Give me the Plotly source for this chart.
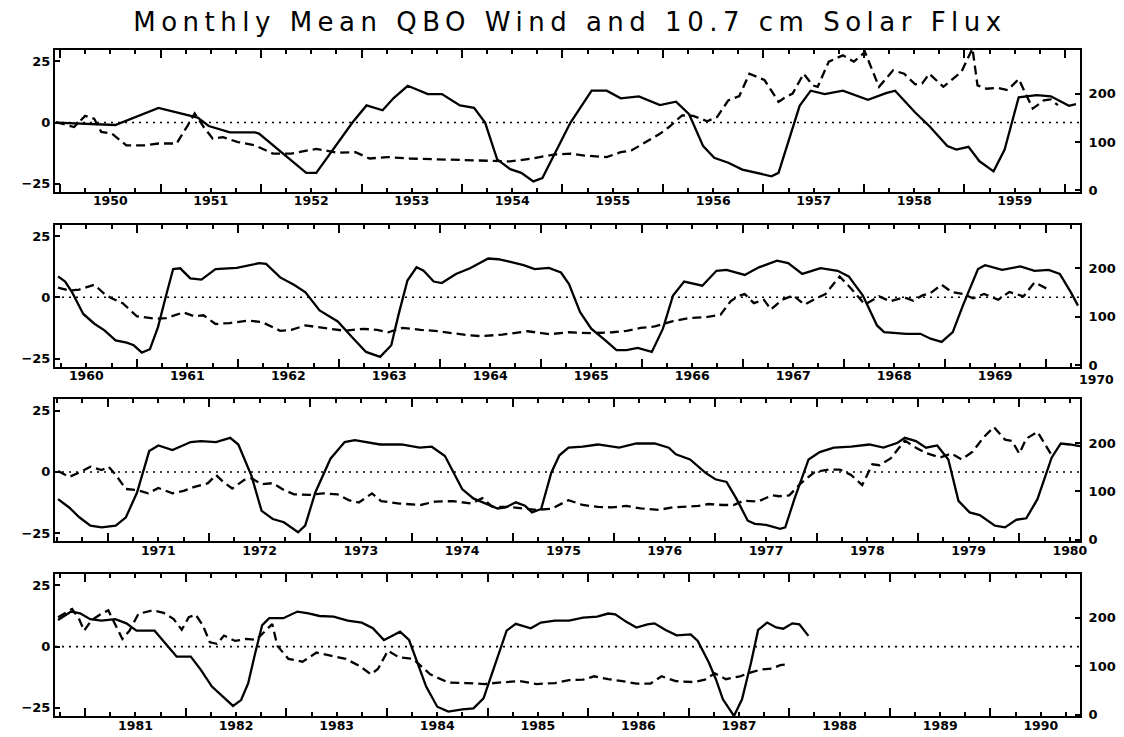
import plotly.graph_objects as go

# ---------------- data (decimal year, QBO wind m/s, 10.7 cm flux) ----------------
qbo_t1 = [1949.96, 1950.3, 1950.55, 1950.98, 1951.27, 1951.37, 1951.48, 1951.69, 1951.94, 1951.98,
          1952.45, 1952.55, 1952.91, 1953.05, 1953.21, 1953.32, 1953.46, 1953.66, 1953.80, 1953.98,
          1954.12, 1954.23, 1954.35, 1954.48, 1954.59, 1954.71, 1954.80, 1954.94, 1955.08, 1955.29,
          1955.44, 1955.58, 1955.76, 1955.97, 1956.13, 1956.26, 1956.40, 1956.51, 1956.65, 1956.79,
          1956.94, 1957.08, 1957.15, 1957.36, 1957.47, 1957.61, 1957.79, 1958.04, 1958.22, 1958.31,
          1958.51, 1958.65, 1958.83, 1958.92, 1959.04, 1959.15, 1959.29, 1959.40, 1959.54, 1959.72,
          1959.86, 1960.04, 1960.11]
qbo_v1 = [0.0, -0.5, -1.0, 6.0, 3.0, 2.0, -1.4, -4.0, -4.0, -4.5,
          -20.5, -20.5, 0.0, 7.0, 5.0, 10.0, 15.0, 11.6, 11.6, 7.0,
          6.0, 0.0, -15.0, -19.0, -20.5, -24.0, -22.6, -11.0, 0.0, 13.0,
          13.0, 9.9, 10.7, 7.1, 8.5, 3.4, -9.6, -14.4, -16.4, -19.2,
          -20.5, -21.9, -20.5, 6.8, 13.0, 11.6, 13.0, 9.3, 12.0, 13.0,
          4.1, -1.4, -9.6, -11.0, -9.9, -15.8, -19.9, -11.0, 10.3, 11.2,
          10.7, 6.8, 7.5]
flux_t1 = [1949.96, 1950.14, 1950.25, 1950.34, 1950.41, 1950.52, 1950.66, 1950.84, 1950.98, 1951.16,
           1951.27, 1951.34, 1951.43, 1951.52, 1951.62, 1951.77, 1951.94, 1952.12, 1952.30, 1952.55,
           1952.76, 1952.94, 1953.08, 1953.26, 1953.48, 1953.76, 1954.05, 1954.27, 1954.48, 1954.70,
           1954.91, 1955.08, 1955.22, 1955.44, 1955.58, 1955.69, 1955.83, 1955.97, 1956.06, 1956.19,
           1956.30, 1956.44, 1956.54, 1956.65, 1956.76, 1956.86, 1957.01, 1957.15, 1957.22, 1957.29,
           1957.40, 1957.49, 1957.54, 1957.65, 1957.79, 1957.90, 1958.01, 1958.15, 1958.29, 1958.40,
           1958.51, 1958.58, 1958.65, 1958.79, 1958.97, 1959.08, 1959.13, 1959.22, 1959.33, 1959.43,
           1959.54, 1959.61, 1959.68, 1959.79, 1959.86, 1959.93]
flux_v1 = [141, 131, 154, 148, 121, 117, 93, 93, 97, 97,
           134, 159, 131, 107, 110, 100, 93, 76, 76, 86,
           78, 79, 66, 69, 66, 64, 62, 60, 60, 66,
           74, 76, 72, 69, 79, 83, 100, 117, 131, 155,
           154, 143, 152, 186, 195, 241, 228, 183, 193, 200,
           241, 217, 214, 266, 279, 266, 286, 214, 248, 241,
           219, 221, 241, 214, 245, 293, 217, 210, 212, 207,
           230, 200, 169, 186, 188, 176]

qbo_t2 = [1960.22, 1960.29, 1960.36, 1960.47, 1960.58, 1960.68, 1960.79, 1960.90, 1960.97, 1961.05,
          1961.13, 1961.21, 1961.29, 1961.36, 1961.43, 1961.53, 1961.64, 1961.78, 1961.99, 1962.21,
          1962.28, 1962.42, 1962.56, 1962.67, 1962.81, 1962.99, 1963.13, 1963.27, 1963.41, 1963.52,
          1963.59, 1963.68, 1963.77, 1963.84, 1963.94, 1964.02, 1964.16, 1964.30, 1964.48, 1964.58,
          1964.69, 1964.83, 1964.94, 1965.08, 1965.20, 1965.28, 1965.39, 1965.50, 1965.64, 1965.75,
          1965.85, 1965.96, 1966.10, 1966.21, 1966.31, 1966.42, 1966.60, 1966.74, 1966.84, 1967.02,
          1967.16, 1967.34, 1967.45, 1967.59, 1967.77, 1967.94, 1968.05, 1968.19, 1968.33, 1968.40,
          1968.62, 1968.76, 1968.86, 1968.97, 1969.08, 1969.18, 1969.33, 1969.40, 1969.57, 1969.75,
          1969.89, 1970.03, 1970.14, 1970.25, 1970.32]
qbo_v2 = [8.5, 6.4, 2.0, -6.8, -10.8, -13.5, -17.6, -18.5, -19.6, -22.6,
          -21.2, -12.2, 0.7, 11.5, 11.8, 7.7, 7.2, 11.5, 12.0, 13.9,
          13.6, 8.1, 5.0, 2.0, -5.4, -9.9, -16.2, -22.3, -24.3, -19.6,
          -7.4, 6.8, 12.2, 10.8, 6.4, 5.8, 9.5, 11.8, 15.8, 15.5,
          14.5, 13.1, 11.5, 12.0, 10.1, 5.4, -6.1, -12.8, -17.6, -21.6,
          -21.6, -20.7, -22.3, -12.8, 0.7, 6.4, 4.7, 10.8, 11.2, 9.1,
          12.2, 14.9, 13.9, 9.5, 11.9, 10.8, 8.5, 0.7, -11.5, -14.2,
          -14.9, -14.9, -16.9, -18.2, -14.2, -3.4, 11.5, 13.1, 11.2, 12.6,
          10.8, 11.2, 9.5, 2.0, -3.4]
flux_t2 = [1960.22, 1960.33, 1960.43, 1960.58, 1960.68, 1960.75, 1960.86, 1961.00, 1961.18, 1961.29,
           1961.46, 1961.57, 1961.66, 1961.78, 1961.92, 1962.10, 1962.24, 1962.42, 1962.53, 1962.67,
           1962.85, 1963.06, 1963.24, 1963.38, 1963.49, 1963.63, 1963.81, 1963.99, 1964.27, 1964.41,
           1964.62, 1964.87, 1965.09, 1965.28, 1965.50, 1965.71, 1965.85, 1965.99, 1966.13, 1966.31,
           1966.46, 1966.63, 1966.78, 1966.88, 1966.95, 1967.02, 1967.11, 1967.21, 1967.28, 1967.39,
           1967.50, 1967.61, 1967.73, 1967.82, 1967.96, 1968.07, 1968.21, 1968.35, 1968.46, 1968.60,
           1968.69, 1968.78, 1968.86, 1968.97, 1969.07, 1969.18, 1969.28, 1969.39, 1969.53, 1969.64,
           1969.78, 1969.89, 1970.03]
flux_v2 = [160, 154, 156, 166, 147, 138, 128, 101, 96, 97,
           109, 101, 103, 85, 87, 92, 89, 71, 73, 82,
           77, 71, 75, 73, 68, 77, 73, 70, 62, 60,
           63, 70, 64, 68, 66, 68, 71, 77, 80, 91,
           97, 99, 104, 132, 142, 147, 128, 135, 115, 135,
           144, 125, 138, 147, 183, 159, 125, 142, 132, 140,
           133, 144, 149, 166, 151, 147, 138, 147, 135, 151,
           142, 171, 156]

qbo_t3 = [1970.51, 1970.62, 1970.72, 1970.83, 1970.94, 1971.08, 1971.18, 1971.29, 1971.41, 1971.50,
          1971.64, 1971.82, 1971.92, 1972.07, 1972.21, 1972.29, 1972.42, 1972.52, 1972.63, 1972.74,
          1972.88, 1972.95, 1973.05, 1973.20, 1973.34, 1973.44, 1973.69, 1973.90, 1974.08, 1974.20,
          1974.33, 1974.50, 1974.61, 1974.75, 1974.85, 1974.93, 1975.03, 1975.12, 1975.19, 1975.28,
          1975.38, 1975.46, 1975.55, 1975.69, 1975.84, 1976.05, 1976.22, 1976.40, 1976.54, 1976.61,
          1976.75, 1976.90, 1977.00, 1977.11, 1977.21, 1977.32, 1977.39, 1977.50, 1977.64, 1977.69,
          1977.78, 1977.92, 1978.03, 1978.17, 1978.34, 1978.52, 1978.66, 1978.80, 1978.87, 1978.98,
          1979.08, 1979.19, 1979.30, 1979.40, 1979.51, 1979.61, 1979.76, 1979.86, 1979.97, 1980.07,
          1980.18, 1980.32, 1980.41, 1980.50, 1980.60]
qbo_v3 = [-11.1, -14.5, -18.5, -21.9, -22.6, -21.9, -18.5, -8.4, 8.5, 10.8,
          8.9, 12.2, 12.6, 12.2, 13.9, 11.2, -1.6, -15.9, -19.2, -20.5,
          -24.6, -21.9, -8.4, 5.4, 12.2, 13.0, 11.2, 11.2, 9.9, 10.3,
          6.5, -7.0, -10.8, -13.1, -14.9, -14.5, -12.4, -13.8, -16.5, -15.1,
          -0.3, 6.8, 9.9, 10.3, 11.2, 9.9, 11.6, 11.6, 9.9, 7.2,
          5.1, -0.3, -3.0, -4.1, -11.1, -19.9, -21.2, -21.6, -23.2, -22.6,
          -11.1, 5.1, 8.1, 9.9, 10.3, 11.2, 9.9, 11.9, 13.9, 12.6,
          9.9, 10.8, 5.1, -11.8, -16.5, -17.6, -21.9, -22.6, -19.5, -18.9,
          -11.1, 5.8, 11.6, 11.2, 10.5]
flux_t3 = [1970.51, 1970.62, 1970.72, 1970.83, 1970.94, 1971.01, 1971.08, 1971.18, 1971.29, 1971.40,
           1971.50, 1971.64, 1971.75, 1971.85, 1971.99, 1972.07, 1972.14, 1972.23, 1972.35, 1972.42,
           1972.52, 1972.63, 1972.74, 1972.84, 1972.99, 1973.13, 1973.27, 1973.38, 1973.48, 1973.61,
           1973.70, 1973.88, 1974.09, 1974.23, 1974.41, 1974.59, 1974.70, 1974.80, 1974.95, 1975.09,
           1975.23, 1975.38, 1975.55, 1975.69, 1975.84, 1975.98, 1976.12, 1976.26, 1976.44, 1976.58,
           1976.72, 1976.83, 1976.93, 1977.07, 1977.18, 1977.28, 1977.42, 1977.56, 1977.63, 1977.73,
           1977.84, 1977.98, 1978.12, 1978.23, 1978.34, 1978.45, 1978.55, 1978.62, 1978.73, 1978.87,
           1978.98, 1979.08, 1979.22, 1979.33, 1979.43, 1979.54, 1979.65, 1979.75, 1979.86, 1979.93,
           1980.00, 1980.07, 1980.18, 1980.25, 1980.32]
flux_v3 = [142, 130, 139, 151, 144, 151, 134, 105, 103, 96,
           107, 96, 101, 109, 117, 134, 120, 106, 124, 127,
           115, 117, 103, 94, 93, 96, 94, 82, 77, 96,
           80, 75, 72, 79, 80, 75, 86, 68, 68, 65,
           62, 64, 82, 72, 68, 67, 70, 65, 62, 67,
           68, 70, 74, 72, 72, 81, 79, 92, 90, 92,
           116, 140, 145, 145, 134, 113, 156, 154, 168, 205,
           190, 179, 170, 178, 166, 182, 212, 233, 207, 204,
           178, 209, 223, 199, 175]

qbo_t4 = [1980.73, 1980.86, 1980.95, 1981.05, 1981.16, 1981.30, 1981.41, 1981.51, 1981.69, 1981.80,
          1981.91, 1982.05, 1982.15, 1982.26, 1982.37, 1982.47, 1982.55, 1982.62, 1982.69, 1982.76,
          1982.83, 1982.97, 1983.11, 1983.22, 1983.33, 1983.47, 1983.61, 1983.75, 1983.86, 1983.97,
          1984.04, 1984.13, 1984.22, 1984.29, 1984.39, 1984.50, 1984.61, 1984.75, 1984.86, 1984.96,
          1985.07, 1985.19, 1985.28, 1985.43, 1985.53, 1985.67, 1985.81, 1985.95, 1986.09, 1986.20,
          1986.27, 1986.38, 1986.48, 1986.59, 1986.66, 1986.77, 1986.88, 1987.02, 1987.09, 1987.20,
          1987.27, 1987.34, 1987.45, 1987.53, 1987.62, 1987.69, 1987.78, 1987.87, 1987.94, 1988.03,
          1988.10, 1988.19]
qbo_v4 = [10.9, 14.3, 13.6, 11.2, 10.6, 11.2, 9.5, 6.5, 6.5, 1.4,
          -4.1, -4.1, -9.5, -16.3, -20.4, -24.2, -21.8, -15.0, -2.7, 8.8,
          11.6, 11.6, 14.3, 13.6, 12.5, 12.2, 10.6, 9.8, 7.5, 2.7,
          4.1, 6.1, 2.7, -5.4, -16.3, -24.5, -26.5, -25.6, -25.2, -21.1,
          -8.2, 6.5, 9.3, 7.5, 9.8, 10.6, 10.6, 11.8, 12.2, 13.5,
          13.2, 10.1, 7.8, 9.1, 9.5, 6.8, 4.6, 5.0, 2.3, -6.5,
          -13.3, -21.5, -28.3, -21.5, -6.5, 6.8, 9.8, 7.8, 7.3, 9.5,
          9.1, 4.4]
flux_t4 = [1980.73, 1980.87, 1980.94, 1980.99, 1981.06, 1981.16, 1981.23, 1981.30, 1981.37, 1981.44,
           1981.53, 1981.67, 1981.78, 1981.88, 1981.96, 1982.03, 1982.10, 1982.17, 1982.24, 1982.31,
           1982.38, 1982.49, 1982.60, 1982.70, 1982.77, 1982.86, 1982.91, 1983.02, 1983.16, 1983.30,
           1983.45, 1983.59, 1983.73, 1983.84, 1983.91, 1984.01, 1984.12, 1984.26, 1984.43, 1984.61,
           1984.79, 1984.97, 1985.11, 1985.32, 1985.49, 1985.67, 1985.81, 1985.95, 1986.06, 1986.20,
           1986.34, 1986.48, 1986.62, 1986.73, 1986.87, 1987.05, 1987.16, 1987.26, 1987.37, 1987.51,
           1987.62, 1987.72, 1987.83, 1987.91, 1988.00]
flux_v4 = [201, 218, 197, 173, 194, 208, 215, 187, 156, 173,
           208, 215, 210, 197, 175, 201, 206, 184, 149, 146,
           163, 152, 156, 154, 169, 187, 142, 115, 109, 128,
           121, 115, 100, 83, 94, 132, 118, 115, 83, 66,
           65, 63, 66, 69, 63, 65, 71, 72, 79, 73,
           69, 64, 64, 79, 69, 67, 72, 85, 73, 79,
           87, 93, 95, 102, 104]

x_ranges = [[1949.95, 1960.15], [1960.19, 1970.34], [1970.48, 1980.60], [1980.70, 1990.89]]
label_years = [list(range(1950, 1960)), list(range(1960, 1970)),
               list(range(1971, 1981)), list(range(1981, 1991))]
wind_ticks = [-25, 0, 25]
flux_ticks = [0, 100, 200]
title_text = "Monthly Mean QBO Wind and 10.7 cm Solar Flux"

qbo_t = [qbo_t1, qbo_t2, qbo_t3, qbo_t4]
qbo_v = [qbo_v1, qbo_v2, qbo_v3, qbo_v4]
flux_t = [flux_t1, flux_t2, flux_t3, flux_t4]
flux_v = [flux_v1, flux_v2, flux_v3, flux_v4]

# ---------------- figure ----------------
W, H = 1124, 737
ml, mr, mt, mb = 47, 52, 42, 24
plot_h = H - mt - mb
panel_h = 143
gap = 176
domains = []
for i in range(4):
    top = 1 - (i * gap) / plot_h
    bot = 1 - (i * gap + panel_h) / plot_h
    domains.append([max(bot, 0), min(top, 1)])

tickfont = dict(family="DejaVu Sans", size=13, color="black", weight="bold")
yearfont = dict(family="DejaVu Sans", size=12.5, color="black", weight="bold")
fig = go.Figure()
layout = dict(
    width=W, height=H, margin=dict(l=ml, r=mr, t=mt, b=mb),
    paper_bgcolor="white", plot_bgcolor="white", showlegend=False,
    title=dict(text='<span style="letter-spacing:5.5px">' + title_text + '</span>',
               x=0.5, xanchor="center", y=0.981, yanchor="middle",
               font=dict(family="DejaVu Sans", size=26, color="black")),
)

def ax(n):
    return "" if n == 1 else str(n)

for i in range(4):
    xi = i + 1
    xl = i + 5
    yl = 2 * i + 1
    yr = 2 * i + 2
    layout["xaxis" + ax(xi)] = dict(
        domain=[0, 1], anchor="y" + ax(yl), range=x_ranges[i],
        tickmode="array", tickvals=list(range(int(x_ranges[i][0]) + 1, int(x_ranges[i][1]) + 1)),
        ticks="inside", ticklen=8, tickwidth=1.5, tickcolor="black",
        showticklabels=False, showline=True, linewidth=2, linecolor="black",
        mirror="ticks", showgrid=False, zeroline=False,
        minor=dict(dtick=0.25, tick0=0, ticks="inside", ticklen=4, tickwidth=1.5,
                   tickcolor="black", showgrid=False),
    )
    layout["xaxis" + ax(xl)] = dict(
        overlaying="x" + ax(xi), anchor="y" + ax(yl), range=x_ranges[i],
        tickmode="array", tickvals=[y + 0.5 for y in label_years[i]],
        ticktext=[str(y) for y in label_years[i]], ticks="", showline=False,
        showgrid=False, zeroline=False, tickfont=yearfont, side="bottom",
    )
    layout["yaxis" + ax(yl)] = dict(
        domain=domains[i], anchor="x" + ax(xi), range=[-28.3, 29.6],
        tickmode="array", tickvals=wind_ticks, ticks="inside", ticklen=5, tickwidth=1.5,
        tickcolor="black", showline=True, linewidth=2, linecolor="black",
        showgrid=False, zeroline=False, tickfont=tickfont,
    )
    layout["yaxis" + ax(yr)] = dict(
        overlaying="y" + ax(yl), anchor="x" + ax(xi), side="right", range=[-3, 290],
        tickmode="array", tickvals=flux_ticks, ticks="inside", ticklen=5, tickwidth=1.5,
        tickcolor="black", showline=True, linewidth=2, linecolor="black",
        showgrid=False, zeroline=False, tickfont=tickfont, ticklabelstandoff=4,
    )
    # zero reference line (dotted)
    fig.add_trace(go.Scatter(x=x_ranges[i], y=[0, 0], mode="lines",
                             line=dict(color="black", width=1.6, dash="2px,5px"),
                             xaxis="x" + ax(xl), yaxis="y" + ax(yl), hoverinfo="skip"))
    fig.add_trace(go.Scatter(x=flux_t[i], y=flux_v[i], mode="lines",
                             line=dict(color="black", width=2.3, dash="9px,5px"),
                             xaxis="x" + ax(xi), yaxis="y" + ax(yr)))
    fig.add_trace(go.Scatter(x=qbo_t[i], y=qbo_v[i], mode="lines",
                             line=dict(color="black", width=2.3),
                             xaxis="x" + ax(xi), yaxis="y" + ax(yl)))

fig.update_layout(**layout)
# the "1970" year label sits just past the right edge of the second panel
fx = (1970.5 - x_ranges[1][0]) / (x_ranges[1][1] - x_ranges[1][0])
fig.add_annotation(text="1970", xref="paper", yref="paper", x=fx, y=domains[1][0],
                   yanchor="top", xanchor="center", showarrow=False, font=yearfont, yshift=-3)
fig.write_html("out.html")
